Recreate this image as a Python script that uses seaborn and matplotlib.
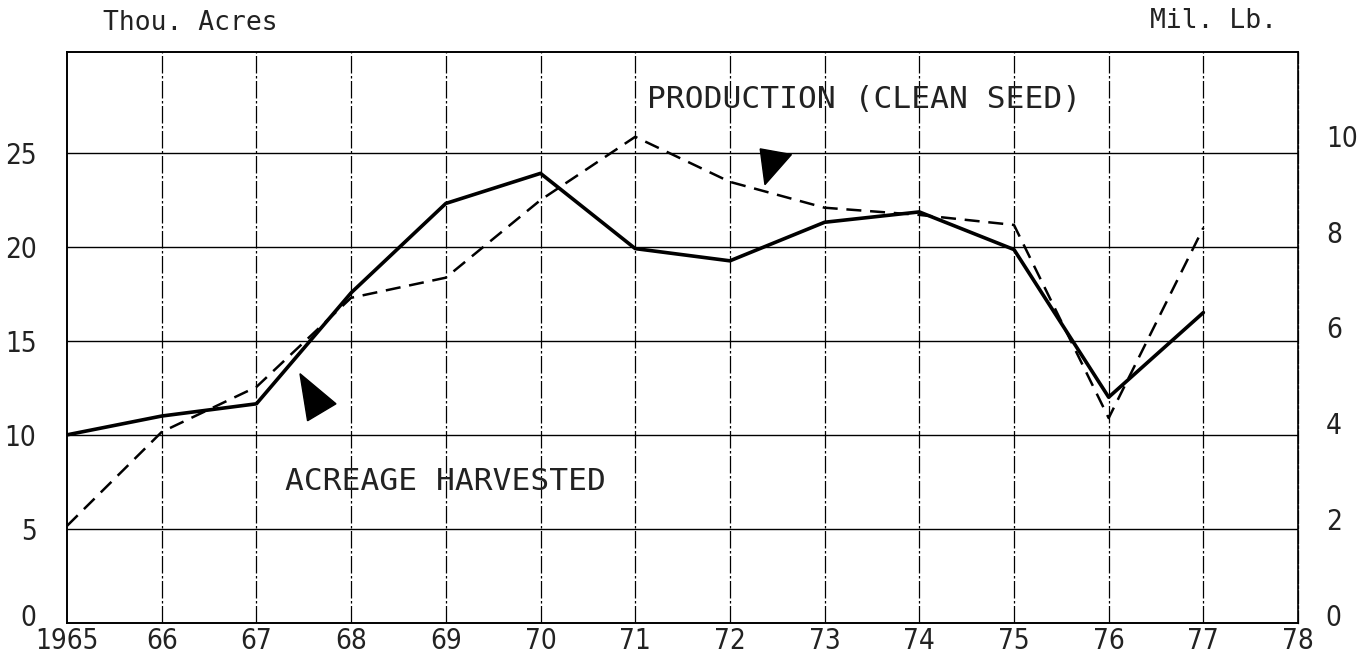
import matplotlib
matplotlib.use("Agg")
import matplotlib.pyplot as plt
from matplotlib.patches import Polygon
from matplotlib.transforms import ScaledTranslation
import seaborn as sns
import pandas as pd

# Data
years = [1965, 1966, 1967, 1968, 1969, 1970, 1971, 1972, 1973, 1974, 1975, 1976, 1977]
acreage = [10.0, 11.0, 11.65, 17.55, 22.3, 23.9, 19.9, 19.25, 21.3, 21.85, 19.85, 12.0, 16.5]
production = [1.86, 3.82, 4.76, 6.62, 7.04, 8.66, 9.98, 9.04, 8.50, 8.35, 8.14, 4.11, 8.08]

x_ticks = list(range(1965, 1979))
x_labels = ["1965"] + [str(y)[2:] for y in x_ticks[1:]]
left_ticks = [0, 5, 10, 15, 20, 25]
right_ticks = [0, 2, 4, 6, 8, 10]

df = pd.DataFrame({"year": years, "acreage": acreage, "production": production})

sns.set_style("white")
plt.rcParams["font.family"] = ["DejaVu Sans"]

fig = plt.figure(figsize=(13.71, 6.55), dpi=100)
ax = fig.add_axes([0.0489, 0.0489, 0.8979, 0.8717])
ax2 = ax.twinx()

# grid
for yv in [5, 10, 15, 20, 25]:
    ax.axhline(yv, color="black", lw=1.0, zorder=1)
for xv in x_ticks[1:-1]:
    ax.axvline(xv, color="black", lw=0.9, ls=(0, (14, 2, 2, 2)), zorder=1)

sns.lineplot(data=df, x="year", y="acreage", ax=ax, color="black", lw=2.6, zorder=3)
sns.lineplot(data=df, x="year", y="production", ax=ax2, color="black", lw=1.8,
             dashes=False, zorder=3, linestyle=(0, (6, 3.5)))

ax.set_xlim(1965, 1978)
ax.set_ylim(0, 30.35)
ax2.set_ylim(-0.167, 11.75)

ax.set_xticks(x_ticks)
ax.set_xticklabels(x_labels)
ax.set_yticks(left_ticks)
ax.set_yticklabels([str(v) for v in left_ticks])
ax2.set_yticks(right_ticks)
ax2.set_yticklabels([str(v) for v in right_ticks])

for lab in ax.get_xticklabels() + ax.get_yticklabels() + ax2.get_yticklabels():
    lab.set_fontfamily(["DejaVu Sans"])
    lab.set_fontstretch("condensed")
    lab.set_fontsize(20)
    lab.set_color("#222222")
ax.tick_params(axis="x", length=0, pad=3)
ax.tick_params(axis="y", length=0, pad=22)
ax2.tick_params(axis="y", length=0, pad=20)

# the zero on the left sits a little above the axis line in the original
zero_lab = ax.get_yticklabels()[0]
zero_lab.set_transform(zero_lab.get_transform() + ScaledTranslation(0, 6 / 72, fig.dpi_scale_trans))

ax.set_xlabel("")
ax.set_ylabel("")
ax2.set_ylabel("")

for a in (ax, ax2):
    for s in a.spines.values():
        s.set_color("black")
        s.set_linewidth(1.2)
ax2.spines["right"].set_linestyle((0, (10, 2, 2, 2)))
ax2.spines["right"].set_linewidth(0.9)

# pointer triangles
ax.add_patch(Polygon([(1967.46, 13.25), (1967.84, 11.65), (1967.54, 10.75)],
                     closed=True, color="black", zorder=4))
ax.add_patch(Polygon([(1972.32, 25.2), (1972.65, 24.9), (1972.37, 23.3)],
                     closed=True, color="black", zorder=4))

mono = ["DejaVu Sans Mono"]
ax.text(1967.3, 7.5, "ACREAGE HARVESTED", fontsize=22.5, family=mono,
        color="#222222", va="center", ha="left", zorder=5)
ax.text(1971.12, 27.85, "PRODUCTION (CLEAN SEED)", fontsize=22.5, family=mono,
        color="#222222", va="center", ha="left", zorder=5)

fig.text(103 / 1371, 1 - 23 / 655, "Thou. Acres", fontsize=19, family=mono,
         color="#222222", va="center", ha="left")
fig.text(1150 / 1371, 1 - 21 / 655, "Mil. Lb.", fontsize=19, family=mono,
         color="#222222", va="center", ha="left")

fig.savefig("out.png", dpi=100)
